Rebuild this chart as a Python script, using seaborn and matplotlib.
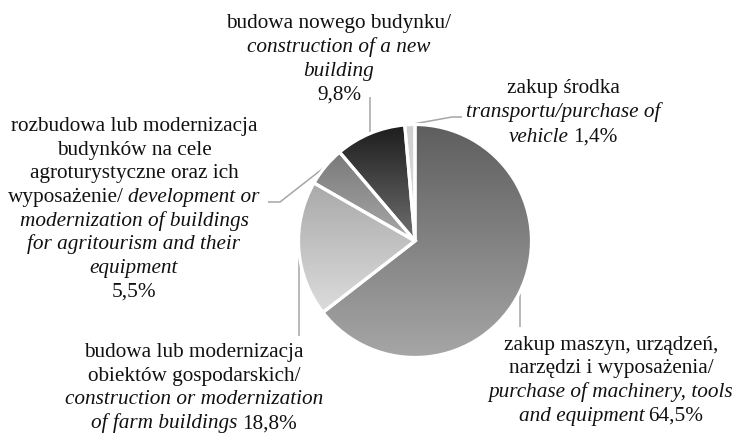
import numpy as np
import matplotlib
matplotlib.use("Agg")
import matplotlib.pyplot as plt
import seaborn as sns
from matplotlib.colors import LinearSegmentedColormap

# shares of investment types, clockwise from the top
shares = [64.5, 18.8, 5.5, 9.8, 1.4]

# Polish / English description of each slice
pl_desc = [
    ["zakup maszyn, urządzeń,", "narzędzi i wyposażenia/"],
    ["budowa lub modernizacja", "obiektów gospodarskich/"],
    ["rozbudowa lub modernizacja", "budynków na cele", "agroturystyczne oraz ich", "wyposażenie/"],
    ["budowa nowego budynku/"],
    ["zakup środka"],
]
en_desc = [
    ["purchase of machinery, tools", "and equipment"],
    ["construction or modernization", "of farm buildings"],
    ["development or", "modernization of buildings", "for agritourism and their", "equipment"],
    ["construction of a new", "building"],
    ["transportu/purchase of", "vehicle"],
]

W, H = 737, 434

sns.set_theme(style="white")
plt.rcParams["font.family"] = "Liberation Serif"


def pct(v):
    return f"{v:.1f}".replace(".", ",") + "%"


def P(s):
    return [(s, False)]


def I(s):
    return [(s, True)]


# label lines as segments (text, italic)
lines = [
    [P(pl_desc[0][0]), P(pl_desc[0][1]), I(en_desc[0][0]), I(en_desc[0][1]) + P(pct(shares[0]))],
    [P(pl_desc[1][0]), P(pl_desc[1][1]), I(en_desc[1][0]), I(en_desc[1][1]) + P(pct(shares[1]))],
    [P(s) for s in pl_desc[2][:3]] + [P(pl_desc[2][3]) + I(en_desc[2][0])]
    + [I(s) for s in en_desc[2][1:]] + [P(pct(shares[2]))],
    [P(pl_desc[3][0]), I(en_desc[3][0]), I(en_desc[3][1]), P(pct(shares[3]))],
    [P(pl_desc[4][0]), I(en_desc[4][0]), I(en_desc[4][1]) + P(pct(shares[4]))],
]

# layout (pixel coords): label centre x, first baseline y, line step
label_pos = [(611, 350, 23.5), (194, 357, 23.7), (134, 131, 23.7), (339, 28, 24), (563, 93, 24.3)]
# leader waypoints after the rim point (None = keep x)
leaders = [
    [(None, 327)],
    [(None, 336)],
    [(280, 202), (268, 202)],
    [(None, 97)],
    [(452, 117), (462, 117)],
]
grad = [
    ("#5e5e5e", "#a6a6a6"),
    ("#a9a9a9", "#dcdcdc"),
    ("#7a7a7a", "#a8a8a8"),
    ("#1c1c1c", "#707070"),
    ("#cfcfcf", "#dedede"),
]
FS = 15.3

cx, cy, r = 415, H - 241, 116.5

fig = plt.figure(figsize=(W / 100, H / 100), dpi=100)
ax = fig.add_axes([0, 0, 1, 1])

wedges, _ = ax.pie(shares, startangle=90, counterclock=False, center=(cx, cy), radius=r,
                   colors=["none"] * len(shares),
                   wedgeprops=dict(edgecolor="white", linewidth=2.3, zorder=3))

for w, (top, bot) in zip(wedges, grad):
    ext = w.get_path().get_extents()
    cmap = LinearSegmentedColormap.from_list("g", [bot, top])
    im = ax.imshow(np.linspace(0, 1, 256).reshape(-1, 1), cmap=cmap, origin="lower",
                   extent=[ext.x0, ext.x1, ext.y0, ext.y1], aspect="auto",
                   interpolation="bilinear", zorder=2)
    im.set_clip_path(w)

for w, pts in zip(wedges, leaders):
    a = np.deg2rad((w.theta1 + w.theta2) / 2)
    x0, y0 = cx + r * np.cos(a), cy + r * np.sin(a)
    xs, ys = [x0], [y0]
    for px, py in pts:
        xs.append(x0 if px is None else px)
        ys.append(H - py)
    ax.plot(xs, ys, color="#a6a6a6", lw=1.1, zorder=1, solid_capstyle="butt")

ax.set_xlim(0, W)
ax.set_ylim(0, H)
ax.set_aspect("equal")
ax.axis("off")

renderer = fig.canvas.get_renderer()


def width(s, italic):
    t = ax.text(0, 0, s, fontsize=FS, style="italic" if italic else "normal")
    wpx = t.get_window_extent(renderer).width
    t.remove()
    return wpx


space = 0.75 * (width("x x", False) - width("xx", False))

for ls, (lx, ly, step) in zip(lines, label_pos):
    for i, segs in enumerate(ls):
        ws = [width(s, itl) for s, itl in segs]
        total = sum(ws) + space * (len(segs) - 1)
        x = lx - total / 2
        for (s, itl), wpx in zip(segs, ws):
            ax.text(x, H - (ly + i * step), s, ha="left", va="baseline", fontsize=FS,
                    style="italic" if itl else "normal", color="#111111")
            x += wpx + space

fig.savefig("out.png", dpi=100, facecolor="white")
